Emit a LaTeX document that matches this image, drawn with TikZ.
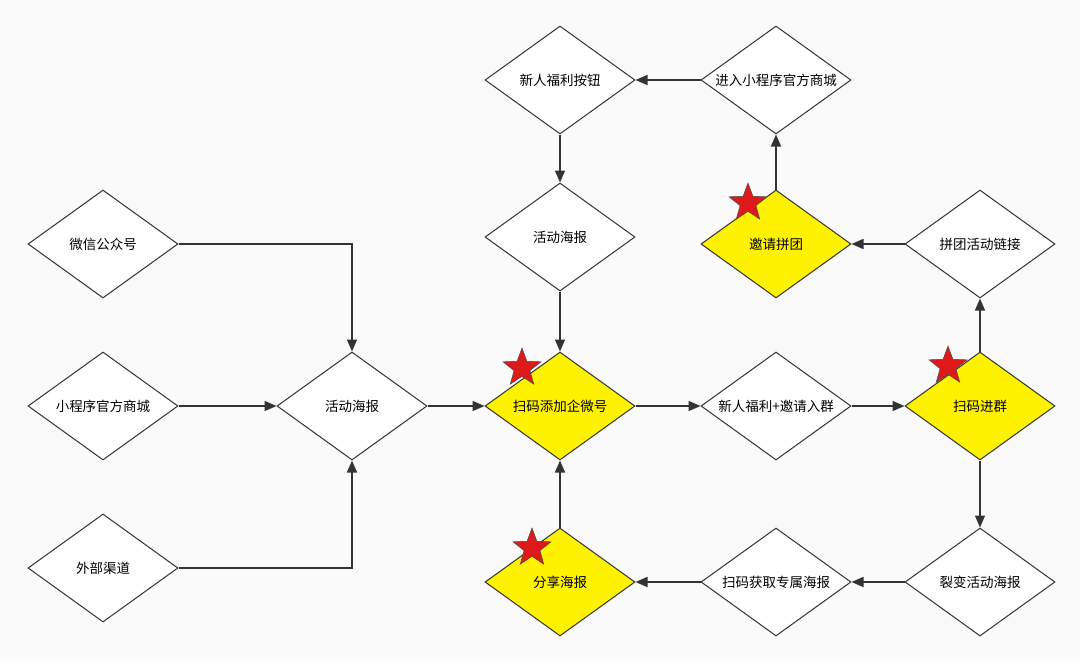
\documentclass[tikz,border=0pt]{standalone}
\usepackage{fontspec}
\setmainfont{Noto Sans CJK SC}
\usetikzlibrary{shapes.geometric,arrows.meta}
\begin{document}
\begin{tikzpicture}[x=1pt,y=-1pt,
  d/.style={diamond,draw=black!80,line width=1pt,fill=white,minimum width=150pt,minimum height=108pt,inner sep=0pt,font=\fontsize{13.5}{15}\selectfont,aspect=1.39},
  yd/.style={d,fill=yellow},
  a/.style={draw=black!80,line width=1.6pt,-{Stealth[length=12pt,width=10pt,inset=0pt]}},
  st/.style={star,star points=5,star point ratio=2.4,fill=red!85!black!90,draw=black!70,line width=0.5pt,minimum size=40pt,inner sep=0pt}]
\fill[black!2] (0,0) rectangle (1080,662);
\node[d] (wx) at (103,244) {微信公众号};
\node[d] (xc) at (103,406) {小程序官方商城};
\node[d] (wb) at (103,568) {外部渠道};
\node[d] (hl) at (352,406) {活动海报};
\node[yd] (sm) at (560,406) {扫码添加企微号};
\node[d] (hm) at (560,237) {活动海报};
\node[d] (xr) at (560,80) {新人福利按钮};
\node[d] (jr) at (776,80) {进入小程序官方商城};
\node[yd] (yq) at (776,244) {邀请拼团};
\node[d] (pt) at (980,244) {拼团活动链接};
\node[d] (xf) at (776,406) {新人福利+邀请入群};
\node[yd] (jq) at (980,406) {扫码进群};
\node[d] (lb) at (980,582) {裂变活动海报};
\node[d] (hq) at (776,582) {扫码获取专属海报};
\node[yd] (fx) at (560,582) {分享海报};
\draw[a] (wx.east) -| (hl.north);
\draw[a] (xc) -- (hl);
\draw[a] (wb.east) -| (hl.south);
\draw[a] (hl) -- (sm);
\draw[a] (hm) -- (sm);
\draw[a] (xr) -- (hm);
\draw[a] (jr) -- (xr);
\draw[a] (yq) -- (jr);
\draw[a] (pt) -- (yq);
\draw[a] (jq) -- (pt);
\draw[a] (sm) -- (xf);
\draw[a] (xf) -- (jq);
\draw[a] (jq) -- (lb);
\draw[a] (lb) -- (hq);
\draw[a] (hq) -- (fx);
\draw[a] (fx) -- (sm);
\node[st] (s1) at (522,368) {};
\node[st] (s2) at (748,203) {};
\node[st] (s3) at (948,366) {};
\node[st] (s4) at (532,548) {};
\end{tikzpicture}
\end{document}
